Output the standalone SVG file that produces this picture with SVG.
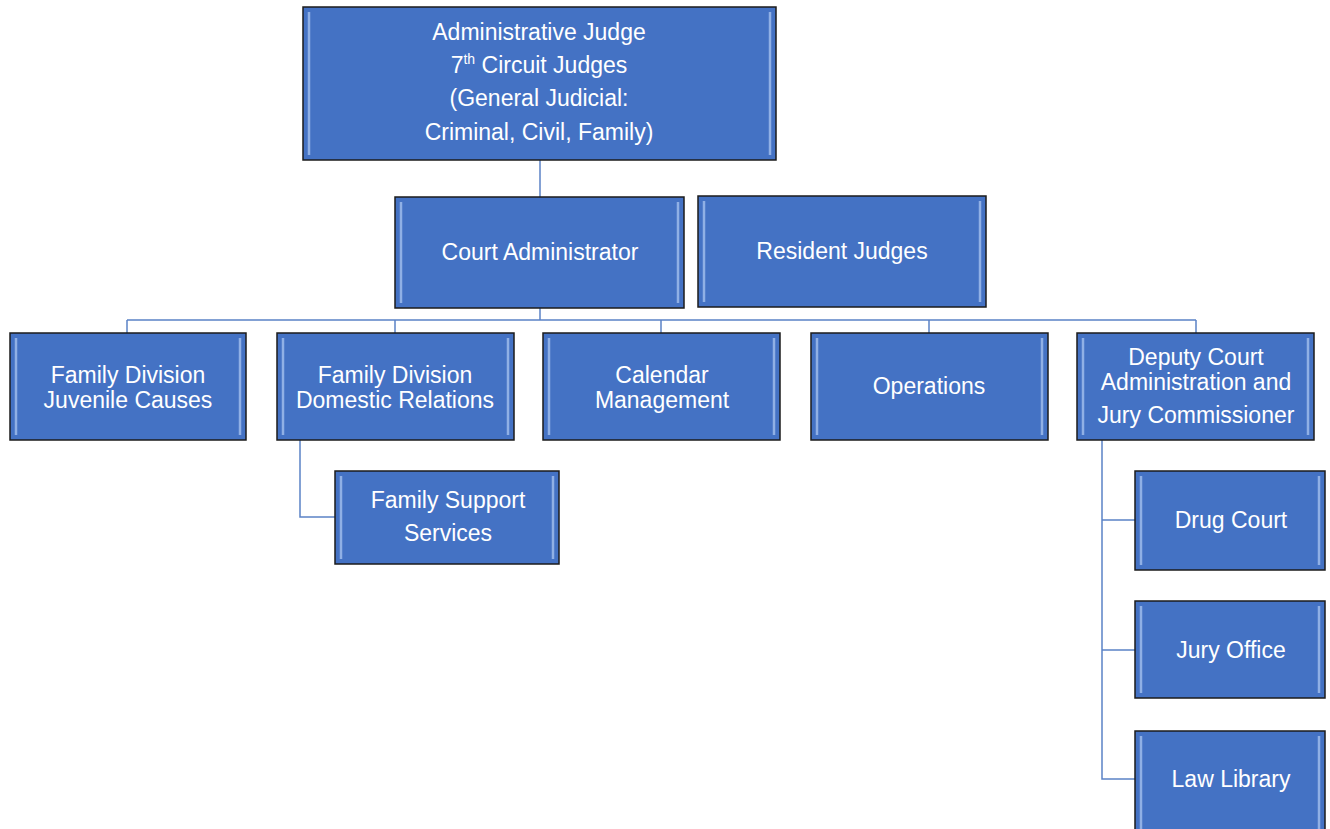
<svg xmlns="http://www.w3.org/2000/svg" width="1330" height="829" viewBox="0 0 1330 829">
<defs>
<style>
.box{fill:#4472C4;stroke:#1b1b1b;stroke-width:1.5}
.bev{fill:none;stroke:#a9c6f0;stroke-width:2.5;opacity:0.75}
.t{font-family:"Liberation Sans",Arial,sans-serif;font-size:23px;fill:#ffffff;text-anchor:middle}
.c{fill:none;stroke:#5b82c6;stroke-width:1.5}
</style>
</defs>
<rect width="1330" height="829" fill="#ffffff"/>
<g id="connectors">
<path class="c" d="M540 160V197"/>
<path class="c" d="M540 308V320M127 320H1196M127 320V333M395 320V333M661 320V333M929 320V333M1196 320V333"/>
<path class="c" d="M300 440V517H335"/>
<path class="c" d="M1102 440V779H1135M1102 520H1135M1102 650H1135"/>
</g>
<g id="admin-judge">
<rect class="box" x="303" y="7" width="473" height="153"/>
<path class="bev" d="M309 12V155M770 12V155"/>
<text class="t" x="539" y="40">Administrative Judge</text>
<text class="t" x="539" y="73">7<tspan font-size="14" dy="-9">th</tspan><tspan dy="9"> Circuit Judges</tspan></text>
<text class="t" x="539" y="106">(General Judicial:</text>
<text class="t" x="539" y="140">Criminal, Civil, Family)</text>
</g>
<g id="court-admin">
<rect class="box" x="395" y="197" width="289" height="111"/>
<path class="bev" d="M401 202V303M678 202V303"/>
<text class="t" x="540" y="260">Court Administrator</text>
</g>
<g id="resident-judges">
<rect class="box" x="698" y="196" width="288" height="111"/>
<path class="bev" d="M704 201V302M980 201V302"/>
<text class="t" x="842" y="259">Resident Judges</text>
</g>
<g id="juvenile">
<rect class="box" x="10" y="333" width="236" height="107"/>
<path class="bev" d="M16 338V435M240 338V435"/>
<text class="t" x="128" y="383">Family Division</text>
<text class="t" x="128" y="408">Juvenile Causes</text>
</g>
<g id="domestic">
<rect class="box" x="277" y="333" width="237" height="107"/>
<path class="bev" d="M283 338V435M508 338V435"/>
<text class="t" x="395" y="383">Family Division</text>
<text class="t" x="395" y="408">Domestic Relations</text>
</g>
<g id="calendar">
<rect class="box" x="543" y="333" width="237" height="107"/>
<path class="bev" d="M549 338V435M774 338V435"/>
<text class="t" x="662" y="383">Calendar</text>
<text class="t" x="662" y="408">Management</text>
</g>
<g id="operations">
<rect class="box" x="811" y="333" width="237" height="107"/>
<path class="bev" d="M817 338V435M1042 338V435"/>
<text class="t" x="929" y="394">Operations</text>
</g>
<g id="deputy">
<rect class="box" x="1077" y="333" width="237" height="107"/>
<path class="bev" d="M1083 338V435M1308 338V435"/>
<text class="t" x="1196" y="365">Deputy Court</text>
<text class="t" x="1196" y="390">Administration and</text>
<text class="t" x="1196" y="423">Jury Commissioner</text>
</g>
<g id="family-support">
<rect class="box" x="335" y="471" width="224" height="93"/>
<path class="bev" d="M341 476V559M553 476V559"/>
<text class="t" x="448" y="508">Family Support</text>
<text class="t" x="448" y="541">Services</text>
</g>
<g id="drug-court">
<rect class="box" x="1135" y="471" width="190" height="99"/>
<path class="bev" d="M1141 476V565M1319 476V565"/>
<text class="t" x="1231" y="528">Drug Court</text>
</g>
<g id="jury-office">
<rect class="box" x="1135" y="601" width="190" height="97"/>
<path class="bev" d="M1141 606V693M1319 606V693"/>
<text class="t" x="1231" y="658">Jury Office</text>
</g>
<g id="law-library">
<rect class="box" x="1135" y="731" width="190" height="100"/>
<path class="bev" d="M1141 736V829M1319 736V829"/>
<text class="t" x="1231" y="787">Law Library</text>
</g>
</svg>
